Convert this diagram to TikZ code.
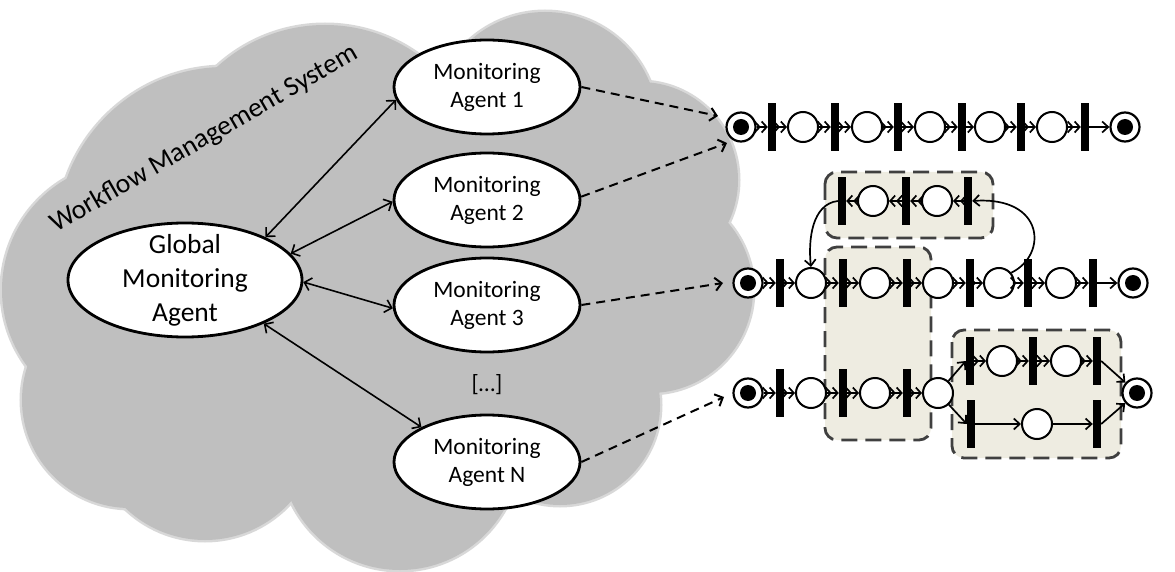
\documentclass[tikz,border=0pt]{standalone}
\usepackage{fontspec}
\setmainfont{Carlito}
\usetikzlibrary{shapes.geometric,arrows.meta}
\definecolor{cloudfill}{RGB}{191,191,191}
\definecolor{cloudedge}{RGB}{216,216,216}
\definecolor{boxfill}{RGB}{238,236,225}
\definecolor{boxedge}{RGB}{64,64,64}
\begin{document}
\begin{tikzpicture}[x=1pt,y=-1pt,
  agent/.style={ellipse,draw,line width=2.8pt,fill=white,minimum width=186pt,minimum height=94pt,inner sep=0pt,align=center,font=\fontsize{23.5}{28}\selectfont},
  bidir/.style={{Straight Barb[length=6.5pt,width=13pt]}-{Straight Barb[length=6.5pt,width=13pt]},line width=1.6pt},
  dasharr/.style={-{Straight Barb[length=6.5pt,width=13pt]},line width=2pt,dash pattern=on 9pt off 6pt},
  pplace/.style={circle,draw,line width=2pt,fill=white,minimum width=29pt,minimum height=30pt,inner sep=0pt},
  term/.style={circle,draw,line width=2.2pt,fill=white,minimum size=29pt,inner sep=0pt,path picture={\fill[black] (path picture bounding box.center) circle (8pt);}},
  tbar/.style={rectangle,fill=black,minimum width=8pt,minimum height=48pt,inner sep=0pt},
  pnarc/.style={-{Straight Barb[length=5pt,width=11pt] Straight Barb[length=5pt,width=11pt]},line width=1.7pt},
  pnlong/.style={-{Straight Barb[length=6pt,width=11pt]},line width=1.7pt},
  grp/.style={draw=boxedge,fill=boxfill,line width=2.8pt,dash pattern=on 16pt off 8pt,rounded corners=12pt}
]
\useasboundingbox (0,0) rectangle (1175,572);
% cloud
\foreach \cx/\cy/\r in {225/235/168,130/290/128,130/400/108,205/425/115,400/450/120,560/405/100,650/290/103,640/180/98,545/125/113,325/185/160}
  {\draw[cloudedge,line width=5pt] (\cx,\cy) circle (\r pt);}
\foreach \cx/\cy/\r in {225/235/168,130/290/128,130/400/108,205/425/115,400/450/120,560/405/100,650/290/103,640/180/98,545/125/113,325/185/160}
  {\fill[cloudfill] (\cx,\cy) circle (\r pt);}
\fill[cloudfill] (380,300) ellipse [x radius=300pt, y radius=200pt];
\node[rotate=30,anchor=base west,inner sep=0pt,font=\fontsize{27.5}{32}\selectfont] (wms) at (56,233) {Workflow Management System};
% agents
\node[agent,minimum width=234pt,minimum height=114pt] (glob) at (185,280) {};
\node[align=center,inner sep=0pt,font=\fontsize{27.5}{34}\selectfont] (globtxt) at (glob) {Global\\Monitoring\\Agent};
\node[agent] (a1) at (487,87) {Monitoring\\Agent 1};
\node[agent] (a2) at (487,200) {Monitoring\\Agent 2};
\node[agent] (a3) at (487,305) {Monitoring\\Agent 3};
\node[agent] (aN) at (487,462) {Monitoring\\Agent N};
\node[font=\fontsize{23.5}{28}\selectfont] (dots) at (487,385) {[…]};
\draw[bidir] (glob.28) -- (a1.188);
\draw[bidir] (glob.14) -- (a2.181);
\draw[bidir] (glob.-1) -- (a3.182);
\draw[bidir] (glob.-29) -- (aN.152);
\coordinate (t1) at (718,116);
\coordinate (t2) at (727,143);
\coordinate (t3) at (723,283);
\coordinate (t4) at (724,397);
\draw[dasharr] (a1.east) -- (t1);
\draw[dasharr] (a2.2) -- (t2);
\draw[dasharr] (a3.east) -- (t3);
\draw[dasharr] (aN.east) -- (t4);
% groups
\draw[grp] (825,172) rectangle (993,238);
\draw[grp] (825,247) rectangle (931,440);
\draw[grp] (952,330) rectangle (1121,458);
% net 1
\node[term] (s1) at (741,127) {};
\node[tbar] (b11) at (772,127) {};
\node[pplace] (p11) at (803,127) {};
\node[tbar] (b12) at (835,127) {};
\node[pplace] (p12) at (867,127) {};
\node[tbar] (b13) at (898,127) {};
\node[pplace] (p13) at (930,127) {};
\node[tbar] (b14) at (962,127) {};
\node[pplace] (p14) at (990,127) {};
\node[tbar] (b15) at (1021,127) {};
\node[pplace] (p15) at (1052,127) {};
\node[tbar] (b16) at (1085,127) {};
\node[term] (e1) at (1125,127) {};
\foreach \u/\v in {s1/b11,b11/p11,p11/b12,b12/p12,p12/b13,b13/p13,p13/b14,b14/p14,p14/b15,b15/p15,p15/b16}
  {\draw[pnarc] (\u) -- (\v);}
\draw[pnlong] (b16) -- (e1);
% net 2
\node[term] (s2) at (748,283) {};
\node[tbar] (b21) at (780,283) {};
\node[pplace] (p21) at (811,283) {};
\node[tbar] (b22) at (843,283) {};
\node[pplace] (p22) at (875,283) {};
\node[tbar] (b23) at (907,283) {};
\node[pplace] (p23) at (938,283) {};
\node[tbar] (b24) at (970,283) {};
\node[pplace] (p24) at (999,283) {};
\node[tbar] (b25) at (1028,283) {};
\node[pplace] (p25) at (1061,283) {};
\node[tbar] (b26) at (1093,283) {};
\node[term] (e2) at (1133,283) {};
\node[tbar] (u1) at (842,201) {};
\node[pplace] (up1) at (873,201) {};
\node[tbar] (u2) at (906,201) {};
\node[pplace] (up2) at (937,201) {};
\node[tbar] (u3) at (968,201) {};
\foreach \u/\v in {s2/b21,b21/p21,p21/b22,b22/p22,p22/b23,b23/p23,p23/b24,b24/p24,p24/b25,b25/p25,p25/b26,u3/up2,up2/u2,u2/up1,up1/u1}
  {\draw[pnarc] (\u) -- (\v);}
\draw[pnlong] (b26) -- (e2);
\draw[pnlong] (p24.40) .. controls (1048,255) and (1045,196) .. (u3.east);
\draw[pnlong] (u1.west) .. controls (812,204) and (808,240) .. (p21.north);
% net 3
\node[term] (s3) at (748,393) {};
\node[tbar] (b31) at (780,393) {};
\node[pplace] (p31) at (811,393) {};
\node[tbar] (b32) at (843,393) {};
\node[pplace] (p32) at (875,393) {};
\node[tbar] (b33) at (907,393) {};
\node[pplace] (p33) at (938,393) {};
\node[tbar] (v1) at (970,361) {};
\node[pplace] (vp1) at (1002,361) {};
\node[tbar] (v2) at (1033,361) {};
\node[pplace] (vp2) at (1066,361) {};
\node[tbar] (v3) at (1097,361) {};
\node[tbar] (w1) at (971,424) {};
\node[pplace] (wp) at (1037,424) {};
\node[tbar] (w2) at (1097,424) {};
\node[term] (e3) at (1137,393) {};
\foreach \u/\v in {s3/b31,b31/p31,p31/b32,b32/p32,p32/b33,b33/p33,v1/vp1,vp1/v2,v2/vp2,vp2/v3}
  {\draw[pnarc] (\u) -- (\v);}
\foreach \u/\v in {w1/wp,wp/w2}
  {\draw[pnlong] (\u) -- (\v);}
\draw[pnlong] (p33) -- (v1.west);
\draw[pnlong] (p33) -- (w1.west);
\draw[pnlong] (v3.east) -- (e3);
\draw[pnlong] (w2.east) -- (e3);
\end{tikzpicture}
\end{document}
